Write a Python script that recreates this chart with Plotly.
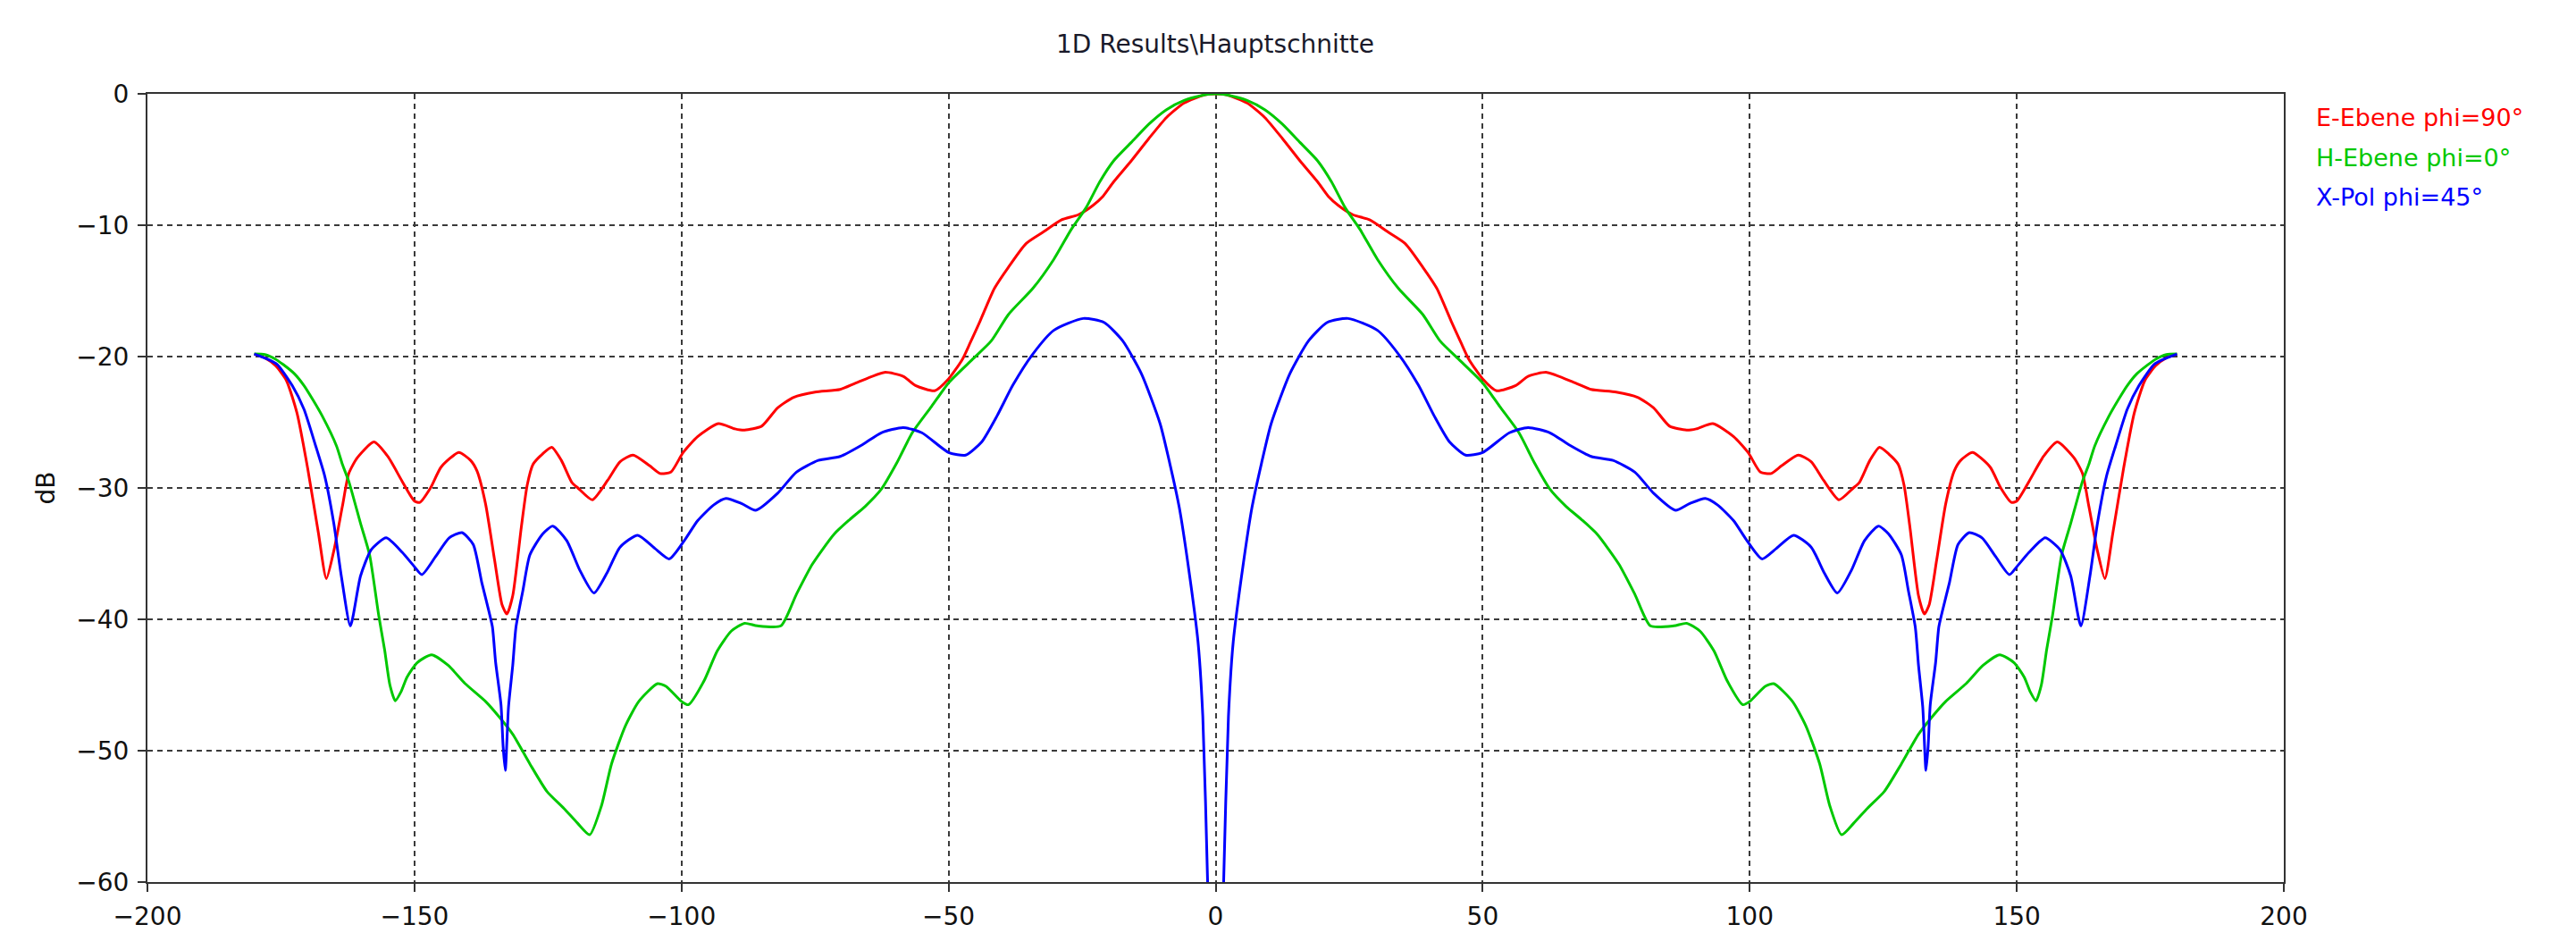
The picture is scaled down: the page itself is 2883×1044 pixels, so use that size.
import plotly.graph_objects as go

# ---------------- data ----------------
TITLE = "1D Results\\Hauptschnitte"
X_TICKS = [-200, -150, -100, -50, 0, 50, 100, 150, 200]
Y_TICKS = [-60, -50, -40, -30, -20, -10, 0]

E_NAME = "E-Ebene phi=90°"
E_THETA = [-180, -178, -176, -174, -172, -170, -168, -166.5, -165, -163.5,
           -162.3, -160.7, -157.6, -155, -152.3, -150, -149, -147, -145, -141.7,
           -139.5, -138.3, -136.7, -135, -133.6, -132.7, -131.6, -130, -128.9, -127.8,
           -126, -124.3, -122.5, -120.5, -119.4, -116.7, -113.8, -111.5, -109.1, -106,
           -104, -102, -99.7, -97, -93.1, -90, -88.2, -85, -82, -79,
           -75, -70.3, -67.3, -62, -58.5, -56.2, -52.6, -50, -47.4, -45.9,
           -44.1, -41.4, -38.8, -35.5, -32.2, -28.9, -25.7, -23, -21.1, -19.1,
           -15.8, -12.5, -9.2, -5.9, -2, 0,
           2, 5.9, 9.2, 12.5, 15.8,
           19.1, 21.1, 23, 25.7, 28.9, 32.2, 35.5, 38.8, 41.4, 44.1,
           45.9, 47.4, 50, 52.6, 56.2, 58.5, 62, 67.3, 70.3, 75,
           79, 82, 85, 88.2, 90, 93.1, 97, 99.7, 102, 104,
           106, 109.1, 111.5, 113.8, 116.7, 119.4, 120.5, 122.5, 124.3, 126,
           127.8, 128.9, 130, 131.6, 132.7, 133.6, 135, 136.7, 138.3, 139.5,
           141.7, 145, 147, 149, 150, 152.3, 155, 157.6, 160.7, 162.3,
           163.5, 165, 166.5, 168, 170, 172, 174, 176, 178, 180]
E_DB = [-19.8, -20.1, -20.7, -21.8, -24.3, -28.5, -33.4, -36.9, -34.6, -31.4,
        -28.9, -27.7, -26.5, -27.6, -29.5, -31.0, -31.1, -30.0, -28.4, -27.3,
        -27.9, -28.7, -31.2, -35.5, -38.9, -39.6, -38.2, -33.0, -29.8, -28.2,
        -27.4, -26.9, -27.9, -29.6, -30.0, -30.9, -29.4, -28.0, -27.5, -28.3,
        -28.9, -28.8, -27.3, -26.1, -25.1, -25.5, -25.6, -25.3, -23.9, -23.1,
        -22.7, -22.5, -22.0, -21.2, -21.5, -22.2, -22.6, -21.7, -20.2, -18.9,
        -17.3, -14.8, -13.2, -11.4, -10.5, -9.6, -9.2, -8.5, -7.8, -6.7,
        -5.1, -3.4, -1.8, -0.7, -0.07, 0,
        -0.07, -0.7, -1.8, -3.4, -5.1,
        -6.7, -7.8, -8.5, -9.2, -9.6, -10.5, -11.4, -13.2, -14.8, -17.3,
        -18.9, -20.2, -21.7, -22.6, -22.2, -21.5, -21.2, -22.0, -22.5, -22.7,
        -23.1, -23.9, -25.3, -25.6, -25.5, -25.1, -26.1, -27.3, -28.8, -28.9,
        -28.3, -27.5, -28.0, -29.4, -30.9, -30.0, -29.6, -27.9, -26.9, -27.4,
        -28.2, -29.8, -33.0, -38.2, -39.6, -38.9, -35.5, -31.2, -28.7, -27.9,
        -27.3, -28.4, -30.0, -31.1, -31.0, -29.5, -27.6, -26.5, -27.7, -28.9,
        -31.4, -34.6, -36.9, -33.4, -28.5, -24.3, -21.8, -20.7, -20.1, -19.8]

H_NAME = "H-Ebene phi=0°"
H_THETA = [-180, -178, -176, -174.6, -172.5, -170.7, -169, -167.3, -164.6, -163.5,
           -162.3, -160.1, -158.4, -156.7, -155.6, -154.6, -153.6, -152.5, -151.4, -149.5,
           -146.8, -143.7, -140.5, -136.7, -134.2, -131.6, -128.4, -125.2, -122, -119.5,
           -117.2, -115, -113.1, -110.5, -108, -104.5, -102.9, -100, -98.7, -95.8,
           -93.3, -90.7, -88.2, -85.8, -81.4, -78.5, -75.5, -71.4, -68.5, -65.6,
           -62.6, -59.7, -56.8, -53.2, -50, -45.5, -42, -38.8, -34.2, -30.3,
           -27, -24.3, -21.7, -19.1, -15.8, -12.5, -9.2, -5.9, -2, 0,
           2, 5.9, 9.2, 12.5, 15.8, 19.1, 21.7, 24.3, 27, 30.3,
           34.2, 38.8, 42, 45.5, 50, 53.2, 56.8, 59.7, 62.6, 65.6,
           68.5, 71.4, 75.5, 78.5, 81.4, 85.8, 88.2, 90.7, 93.3, 95.8,
           98.7, 100, 102.9, 104.5, 108, 110.5, 113.1, 115, 117.2, 119.5,
           122, 125.2, 128.4, 131.6, 134.2, 136.7, 140.5, 143.7, 146.8, 149.5,
           151.4, 152.5, 153.6, 154.6, 155.6, 156.7, 158.4, 160.1, 162.3, 163.5,
           164.6, 167.3, 169, 170.7, 172.5, 174.6, 176, 178, 180]
H_DB = [-19.8, -19.85, -20.2, -20.6, -21.3, -22.2, -23.3, -24.5, -26.8, -28.2,
        -29.5, -32.7, -35.1, -39.7, -42.3, -45.0, -46.2, -45.5, -44.4, -43.3,
        -42.7, -43.5, -44.9, -46.25, -47.4, -48.75, -51.0, -53.1, -54.4, -55.5,
        -56.4, -54.2, -51.0, -48.1, -46.25, -44.9, -45.1, -46.25, -46.5, -44.7,
        -42.4, -40.9, -40.3, -40.5, -40.5, -38.1, -35.8, -33.5, -32.4, -31.4,
        -30.1, -28.1, -25.8, -23.8, -22.0, -20.2, -18.8, -16.8, -14.8, -12.6,
        -10.3, -8.7, -6.7, -5.1, -3.7, -2.3, -1.2, -0.5, -0.07, 0,
        -0.07, -0.5, -1.2, -2.3, -3.7, -5.1, -6.7, -8.7, -10.3, -12.6,
        -14.8, -16.8, -18.8, -20.2, -22.0, -23.8, -25.8, -28.1, -30.1, -31.4,
        -32.4, -33.5, -35.8, -38.1, -40.5, -40.5, -40.3, -40.9, -42.4, -44.7,
        -46.5, -46.25, -45.1, -44.9, -46.25, -48.1, -51.0, -54.2, -56.4, -55.5,
        -54.4, -53.1, -51.0, -48.75, -47.4, -46.25, -44.9, -43.5, -42.7, -43.3,
        -44.4, -45.5, -46.2, -45.0, -42.3, -39.7, -35.1, -32.7, -29.5, -28.2,
        -26.8, -24.5, -23.3, -22.2, -21.3, -20.6, -20.2, -19.85, -19.8]

X_NAME = "X-Pol phi=45°"
X_THETA = [-180, -177.5, -175.7, -172.9, -170.7, -168.5, -166.8, -165.1, -163.7, -162,
           -160.1, -158.1, -155.3, -152.3, -150, -148.6, -146, -143.5, -141.1, -139,
           -137.4, -136, -135.4, -134.8, -133.8, -133.4, -133, -132.4, -131.6, -131,
           -129.7, -128.4, -126, -124.1, -121.5, -119, -116.4, -114, -111.5, -108.2,
           -105, -102.3, -99.3, -97, -94, -91.7, -88.7, -86.1, -82, -78.5,
           -74.4, -70.3, -66.1, -62.6, -58.5, -55, -50, -46.8, -43.8, -40.9,
           -38, -34.4, -30.3, -24.8, -20.9, -17.4, -13.9, -10.4, -8.6, -6.8,
           -5.1, -3.3, -2.4, -1.5, -0.8, 0,
           0.8, 1.5, 2.4, 3.3, 5.1, 6.8, 8.6, 10.4, 13.9, 17.4,
           20.9, 24.8, 30.3, 34.4, 38, 40.9, 43.8, 46.8, 50, 55,
           58.5, 62.6, 66.1, 70.3, 74.4, 78.5, 82, 86.1, 88.7, 91.7,
           94, 97, 99.3, 102.3, 105, 108.2, 111.5, 114, 116.4, 119,
           121.5, 124.1, 126, 128.4, 129.7, 131, 131.6, 132.4, 133, 133.4,
           133.8, 134.8, 135.4, 136, 137.4, 139, 141.1, 143.5, 146, 148.6,
           150, 152.3, 155.3, 158.1, 160.1, 162, 163.7, 165.1, 166.8, 168.5,
           170.7, 172.9, 175.7, 177.5, 180]
X_DB = [-19.8, -20.2, -20.6, -22.2, -24.0, -26.8, -29.1, -32.7, -36.7, -40.5,
        -36.7, -34.7, -33.8, -34.9, -36.0, -36.6, -35.2, -33.8, -33.4, -34.3,
        -37.2, -39.5, -40.6, -43.3, -46.5, -49.7, -51.5, -46.7, -43.5, -40.6,
        -37.8, -35.1, -33.5, -32.9, -34.0, -36.3, -38.0, -36.5, -34.5, -33.6,
        -34.6, -35.4, -33.9, -32.5, -31.3, -30.8, -31.2, -31.7, -30.4, -28.8,
        -27.9, -27.6, -26.7, -25.8, -25.4, -25.8, -27.3, -27.5, -26.5, -24.5,
        -22.2, -19.9, -18.0, -17.1, -17.4, -18.8, -21.3, -25.1, -28.1, -31.5,
        -36.0, -41.7, -47.4, -60, -75, -90,
        -75, -60, -47.4, -41.7, -36.0, -31.5, -28.1, -25.1, -21.3, -18.8,
        -17.4, -17.1, -18.0, -19.9, -22.2, -24.5, -26.5, -27.5, -27.3, -25.8,
        -25.4, -25.8, -26.7, -27.6, -27.9, -28.8, -30.4, -31.7, -31.2, -30.8,
        -31.3, -32.5, -33.9, -35.4, -34.6, -33.6, -34.5, -36.5, -38.0, -36.3,
        -34.0, -32.9, -33.5, -35.1, -37.8, -40.6, -43.5, -46.7, -51.5, -49.7,
        -46.5, -43.3, -40.6, -39.5, -37.2, -34.3, -33.4, -33.8, -35.2, -36.6,
        -36.0, -34.9, -33.8, -34.7, -36.7, -40.5, -36.7, -32.7, -29.1, -26.8,
        -24.0, -22.2, -20.6, -20.2, -19.8]

# ---------------- figure ----------------
W, H = 2883, 1044
ML, MR, MT, MB = 165, 327, 105, 57
FONT = "DejaVu Sans"

series = [
    (E_NAME, E_THETA, E_DB, "#FF0000", 0.9694),
    (H_NAME, H_THETA, H_DB, "#00C800", 0.9195),
    (X_NAME, X_THETA, X_DB, "#0000FF", 0.8685),
]

fig = go.Figure()
for name, th, db, col, _ in series:
    fig.add_trace(go.Scatter(
        x=th, y=db, name=name, mode="lines",
        line=dict(color=col, width=3, shape="spline", smoothing=0.6),
        showlegend=False,
    ))

annotations = []
for name, th, db, col, ly in series:
    annotations.append(dict(
        text=name, xref="paper", yref="paper", x=1.0142, y=ly,
        xanchor="left", yanchor="middle", showarrow=False,
        font=dict(family=FONT, size=27, color=col),
    ))

axis_common = dict(
    showgrid=True, gridcolor="#3a3a3a", gridwidth=1.5, griddash="6px,5px",
    showline=True, linecolor="#333333", linewidth=2, mirror=True,
    ticks="outside", ticklen=9, tickcolor="#333333", tickwidth=1.5,
    zeroline=False, automargin=False,
    tickfont=dict(family=FONT, size=28, color="#111111"),
)

fig.update_layout(
    width=W, height=H,
    margin=dict(l=ML, r=MR, t=MT, b=MB, autoexpand=False),
    paper_bgcolor="white", plot_bgcolor="white",
    showlegend=False,
    font=dict(family=FONT, size=28, color="#111111"),
    title=dict(text=TITLE, x=1360 / W, xref="container", xanchor="center",
               y=1 - 49 / H, yref="container", yanchor="middle",
               font=dict(family=FONT, size=28, color="#1a1a2a")),
    annotations=annotations,
    xaxis=dict(range=[-200, 200], tickmode="array", tickvals=X_TICKS,
               ticklabelstandoff=3, **axis_common),
    yaxis=dict(range=[-60, 0], tickmode="array", tickvals=Y_TICKS,
               ticklabelstandoff=4,
               title=dict(text="dB", standoff=16, font=dict(family=FONT, size=28)),
               **axis_common),
)

fig.write_html("out.html")
